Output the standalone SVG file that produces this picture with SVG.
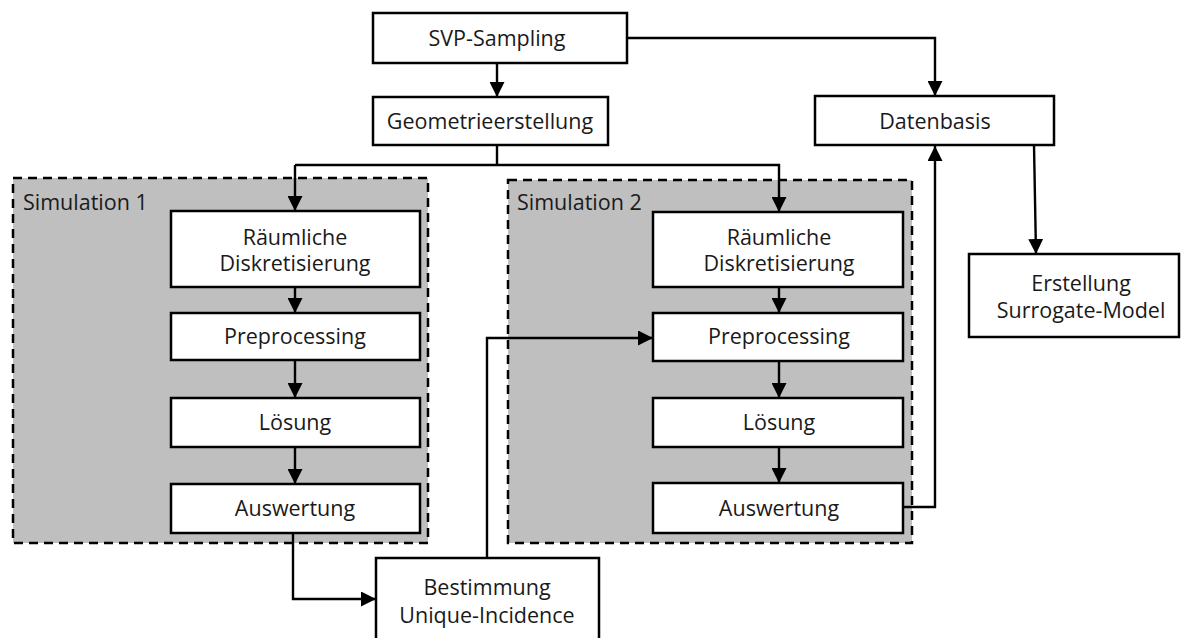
<svg xmlns="http://www.w3.org/2000/svg" width="1181" height="638" viewBox="0 0 1181 638">
  <style>
    .box { fill: #ffffff; stroke: #000000; stroke-width: 2.5; }
    .group { fill: #bfbfbf; stroke: #000000; stroke-width: 2.5; stroke-dasharray: 9 6; }
    .lbl { font-family: "Open Sans", "Noto Sans", "DejaVu Sans", sans-serif; font-size: 21.5px; fill: #1a1a1a; text-anchor: middle; }
    .glbl { font-family: "Open Sans", "Noto Sans", "DejaVu Sans", sans-serif; font-size: 21.5px; fill: #1a1a1a; }
    .wire { fill: none; stroke: #000000; stroke-width: 2.4; }
    .arr { marker-end: url(#head); }
  </style>
  <defs>
    <marker id="head" viewBox="0 0 15 15" refX="15" refY="7.5" markerWidth="15" markerHeight="15" markerUnits="userSpaceOnUse" orient="auto">
      <path d="M0,0 L15,7.5 L0,15 Z" fill="#000000"/>
    </marker>
  </defs>

  <!-- simulation groups (background) -->
  <g id="simulation1">
    <rect class="group" x="13" y="178" width="415" height="365"/>
    <text class="glbl" x="23" y="210">Simulation 1</text>
  </g>
  <g id="simulation2">
    <rect class="group" x="508" y="180" width="404" height="363"/>
    <text class="glbl" x="517" y="210">Simulation 2</text>
  </g>

  <!-- top level -->
  <g id="svp-sampling">
    <rect class="box" x="373" y="13" width="254" height="50"/>
    <text class="lbl" x="497" y="46">SVP-Sampling</text>
  </g>
  <g id="geometrieerstellung">
    <rect class="box" x="373" y="97" width="235" height="48"/>
    <text class="lbl" x="490" y="129">Geometrieerstellung</text>
  </g>
  <g id="datenbasis">
    <rect class="box" x="815" y="96" width="239" height="49"/>
    <text class="lbl" x="935" y="129">Datenbasis</text>
  </g>
  <g id="surrogate-model">
    <rect class="box" x="969" y="254" width="210" height="83"/>
    <text class="lbl" x="1081" y="291">Erstellung</text>
    <text class="lbl" x="1081" y="318">Surrogate-Model</text>
  </g>

  <!-- simulation 1 steps -->
  <g id="sim1-diskretisierung">
    <rect class="box" x="171" y="211" width="249" height="76"/>
    <text class="lbl" x="295" y="245">Räumliche</text>
    <text class="lbl" x="295" y="271">Diskretisierung</text>
  </g>
  <g id="sim1-preprocessing">
    <rect class="box" x="171" y="313" width="249" height="47"/>
    <text class="lbl" x="295" y="344">Preprocessing</text>
  </g>
  <g id="sim1-loesung">
    <rect class="box" x="171" y="398" width="249" height="49"/>
    <text class="lbl" x="295" y="430">Lösung</text>
  </g>
  <g id="sim1-auswertung">
    <rect class="box" x="171" y="484" width="249" height="49"/>
    <text class="lbl" x="295" y="516">Auswertung</text>
  </g>

  <!-- simulation 2 steps -->
  <g id="sim2-diskretisierung">
    <rect class="box" x="653" y="212" width="250" height="75"/>
    <text class="lbl" x="779" y="245">Räumliche</text>
    <text class="lbl" x="779" y="271">Diskretisierung</text>
  </g>
  <g id="sim2-preprocessing">
    <rect class="box" x="653" y="313" width="250" height="48"/>
    <text class="lbl" x="779" y="344">Preprocessing</text>
  </g>
  <g id="sim2-loesung">
    <rect class="box" x="653" y="398" width="250" height="49"/>
    <text class="lbl" x="779" y="430">Lösung</text>
  </g>
  <g id="sim2-auswertung">
    <rect class="box" x="653" y="483" width="250" height="50"/>
    <text class="lbl" x="779" y="516">Auswertung</text>
  </g>

  <!-- unique incidence -->
  <g id="unique-incidence">
    <rect class="box" x="376" y="558" width="223" height="90"/>
    <text class="lbl" x="487" y="595">Bestimmung</text>
    <text class="lbl" x="487" y="623">Unique-Incidence</text>
  </g>

  <!-- connectors -->
  <g id="connectors">
    <path class="wire arr" d="M497,63 V97"/>
    <path class="wire arr" d="M627,38 H935 V96"/>
    <path class="wire" d="M497,145 V165"/>
    <path class="wire arr" d="M295,165 H779 V212"/>
    <path class="wire arr" d="M295,165 V211"/>
    <path class="wire arr" d="M295,287 V313"/>
    <path class="wire arr" d="M295,360 V398"/>
    <path class="wire arr" d="M295,447 V484"/>
    <path class="wire arr" d="M779,287 V313"/>
    <path class="wire arr" d="M779,361 V398"/>
    <path class="wire arr" d="M779,447 V483"/>
    <path class="wire arr" d="M293,533 V599 H376"/>
    <path class="wire arr" d="M487,558 V338 H653"/>
    <path class="wire arr" d="M903,507 H935 V146"/>
    <path class="wire arr" d="M1034,145 L1036,254"/>
  </g>
</svg>
